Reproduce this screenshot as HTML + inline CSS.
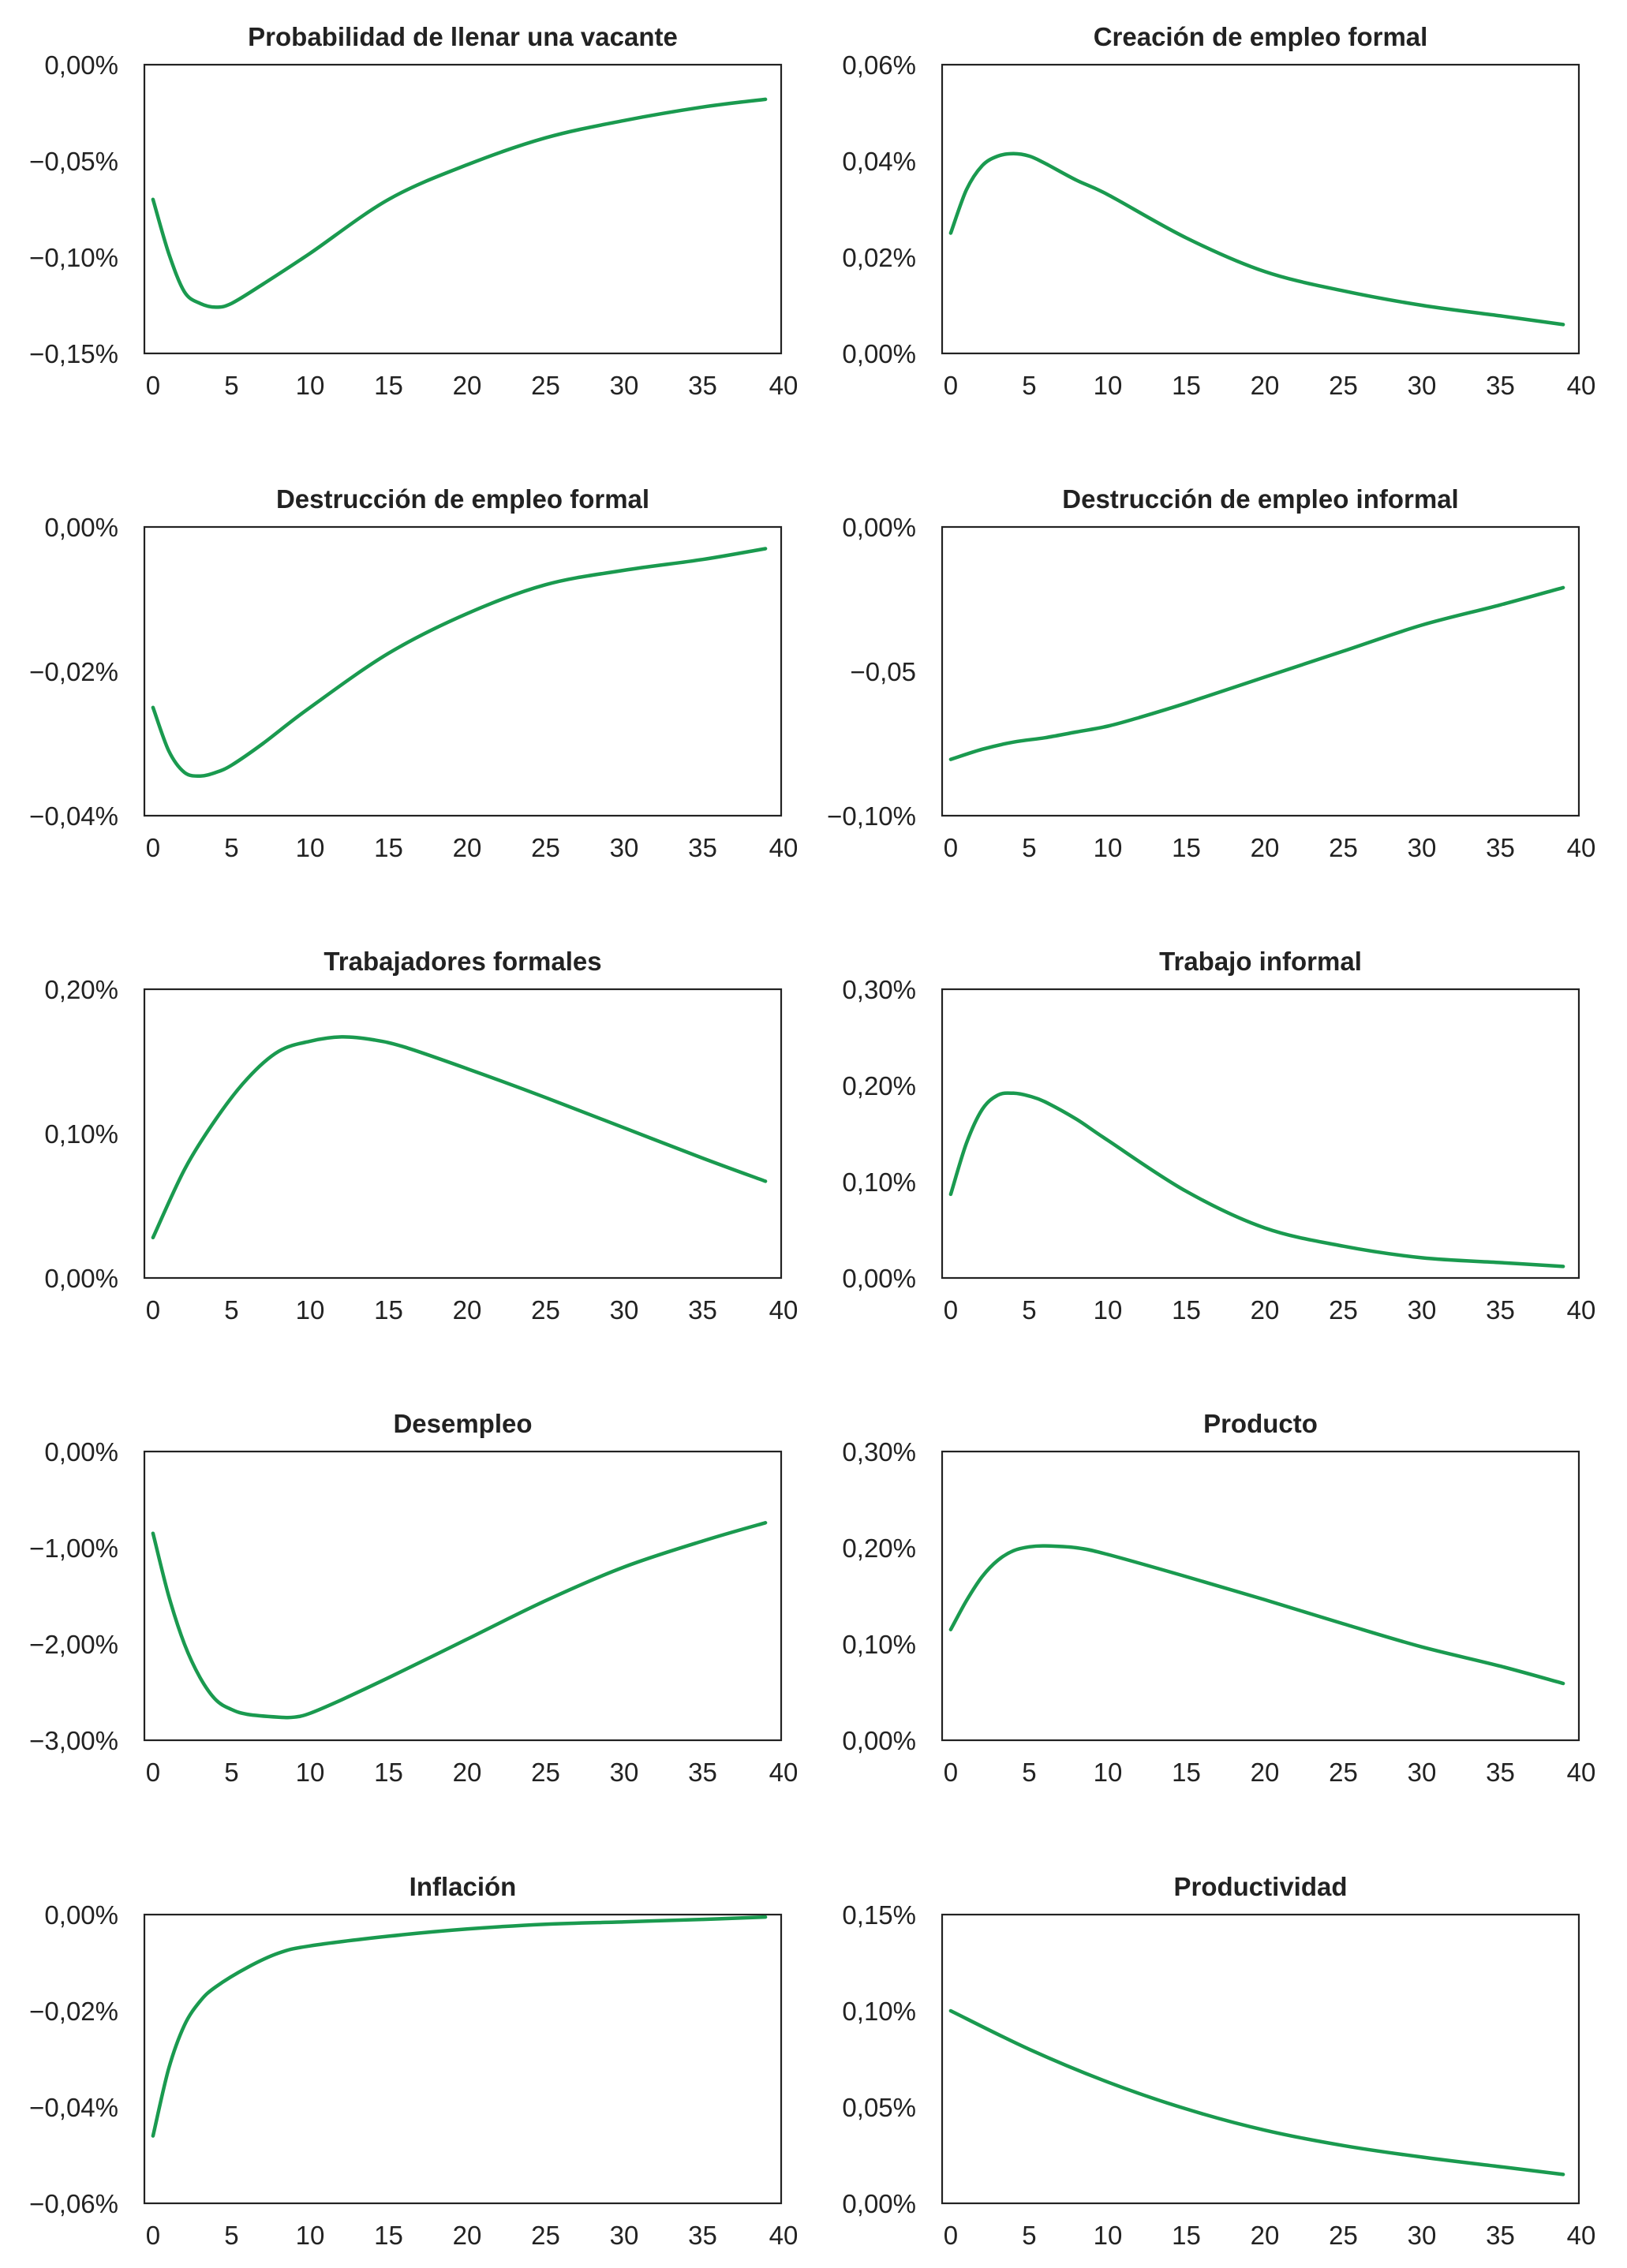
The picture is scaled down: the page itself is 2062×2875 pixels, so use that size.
<!DOCTYPE html>
<html><head><meta charset="utf-8">
<style>
html,body{margin:0;padding:0;background:#fff;}
svg{display:block;}
text{font-family:"Liberation Sans Narrow","Liberation Sans",sans-serif;fill:#222;}
.tick{font-size:33px;}
.title{font-size:33px;font-weight:bold;}
</style></head>
<body>
<svg id="fig" width="2062" height="2875" viewBox="0 0 2062 2875"></svg>
<script>
// ---- data ----
const titles = ["Probabilidad de llenar una vacante","Creación de empleo formal","Destrucción de empleo formal","Destrucción de empleo informal","Trabajadores formales","Trabajo informal","Desempleo","Producto","Inflación","Productividad"];
const xTicks = [0,5,10,15,20,25,30,35,40];
const yMins = [-0.15,0,-0.04,-0.10,0,0,-3,0,-0.06,0];
const yMaxs = [0,0.06,0,0,0.20,0.30,0,0.30,0,0.15];
const yTickVals = [[0,-0.05,-0.10,-0.15],[0.06,0.04,0.02,0],[0,-0.02,-0.04],[0,-0.05,-0.10],[0.20,0.10,0],[0.30,0.20,0.10,0],[0,-1,-2,-3],[0.30,0.20,0.10,0],[0,-0.02,-0.04,-0.06],[0.15,0.10,0.05,0]];
const yTickLabels = [["0,00%","−0,05%","−0,10%","−0,15%"],["0,06%","0,04%","0,02%","0,00%"],["0,00%","−0,02%","−0,04%"],["0,00%","−0,05","−0,10%"],["0,20%","0,10%","0,00%"],["0,30%","0,20%","0,10%","0,00%"],["0,00%","−1,00%","−2,00%","−3,00%"],["0,30%","0,20%","0,10%","0,00%"],["0,00%","−0,02%","−0,04%","−0,06%"],["0,15%","0,10%","0,05%","0,00%"]];
const periods0 = [0,1,2,3,4,5,7,10,15,20,25,30,35,39];
const values0 = [-0.070,-0.098,-0.118,-0.124,-0.126,-0.124,-0.114,-0.098,-0.070,-0.052,-0.038,-0.029,-0.022,-0.018];
const periods1 = [0,1,2,3,4,5,6,8,10,15,20,25,30,35,39];
const values1 = [0.025,0.034,0.039,0.041,0.0415,0.041,0.0395,0.036,0.033,0.024,0.017,0.013,0.010,0.0078,0.006];
const periods2 = [0,1,2,3,4,5,7,10,15,20,25,30,35,39];
const values2 = [-0.025,-0.031,-0.034,-0.0345,-0.034,-0.033,-0.030,-0.025,-0.0175,-0.012,-0.008,-0.006,-0.0045,-0.003];
const periods3 = [0,2,4,6,8,10,12,15,20,25,30,35,39];
const values3 = [-0.0805,-0.077,-0.0745,-0.073,-0.071,-0.069,-0.066,-0.061,-0.052,-0.043,-0.034,-0.027,-0.021];
const periods4 = [0,2,4,6,8,10,12,14,16,20,25,30,35,39];
const values4 = [0.028,0.075,0.11,0.138,0.157,0.164,0.167,0.165,0.160,0.145,0.125,0.104,0.083,0.067];
const periods5 = [0,1,2,3,4,5,6,8,10,15,20,25,30,35,39];
const values5 = [0.087,0.14,0.175,0.19,0.192,0.189,0.183,0.165,0.143,0.09,0.052,0.033,0.021,0.016,0.012];
const periods6 = [0,1,2,3,4,5,6,8,9,10,12,15,20,25,30,35,39];
const values6 = [-0.85,-1.5,-2.0,-2.35,-2.58,-2.68,-2.73,-2.76,-2.76,-2.72,-2.58,-2.35,-1.95,-1.55,-1.2,-0.93,-0.74];
const periods7 = [0,1,2,3,4,5,6,8,10,15,20,25,30,35,39];
const values7 = [0.115,0.145,0.170,0.187,0.197,0.201,0.202,0.200,0.193,0.170,0.146,0.121,0.097,0.077,0.059];
const periods8 = [0,1,2,3,4,6,8,10,15,20,25,30,35,39];
const values8 = [-0.046,-0.032,-0.023,-0.018,-0.015,-0.011,-0.008,-0.0065,-0.0045,-0.003,-0.002,-0.0015,-0.001,-0.0005];
const periods9 = [0,5,10,15,20,25,30,35,39];
const values9 = [0.100,0.080,0.063,0.049,0.038,0.030,0.024,0.019,0.015];

const allPeriods=[periods0,periods1,periods2,periods3,periods4,periods5,periods6,periods7,periods8,periods9];
const allValues=[values0,values1,values2,values3,values4,values5,values6,values7,values8,values9];

// ---- layout ----
const NS="http://www.w3.org/2000/svg";
const svg=document.getElementById('fig');
const boxLefts=[183,1194], boxW=807, boxTops=[82,668,1254,1840,2427], boxH=366;
const xMin=-0.55, xMax=40;
function mk(tag,attrs,parent){const e=document.createElementNS(NS,tag);for(const k in attrs)e.setAttribute(k,attrs[k]);(parent||svg).appendChild(e);return e;}
function smoothPath(pts){
  let d=`M${pts[0][0].toFixed(1)},${pts[0][1].toFixed(1)}`;
  for(let i=0;i<pts.length-1;i++){
    const p0=pts[i-1]||pts[i],p1=pts[i],p2=pts[i+1],p3=pts[i+2]||p2;
    const c1=[p1[0]+(p2[0]-p0[0])/6,p1[1]+(p2[1]-p0[1])/6];
    const c2=[p2[0]-(p3[0]-p1[0])/6,p2[1]-(p3[1]-p1[1])/6];
    d+=` C${c1[0].toFixed(1)},${c1[1].toFixed(1)} ${c2[0].toFixed(1)},${c2[1].toFixed(1)} ${p2[0].toFixed(1)},${p2[1].toFixed(1)}`;
  }
  return d;
}
for(let i=0;i<10;i++){
  const L=boxLefts[i%2], T=boxTops[Math.floor(i/2)];
  const g=mk('g',{});
  
  
  const xs=v=>L+(v-xMin)/(xMax-xMin)*boxW;
  const ys=v=>T+(yMaxs[i]-v)/(yMaxs[i]-yMins[i])*boxH;
  const t=mk('text',{x:L+boxW/2,y:T-24,'text-anchor':'middle',class:'title'},g);
  t.textContent=titles[i];
  
  
  const r=mk('rect',{x:L,y:T,width:boxW,height:boxH,fill:'none',stroke:'#222','stroke-width':2.2},g);
  
  
  yTickVals[i].forEach((v,j)=>{
    const yl=mk('text',{x:L-33,y:ys(v)+12,'text-anchor':'end',class:'tick'},g);
    yl.textContent=yTickLabels[i][j];
    
    
  });
  xTicks.forEach(v=>{
    const xl=mk('text',{x:xs(v)+(v===40?3:0),y:T+boxH+52,'text-anchor':'middle',class:'tick'},g);
    xl.textContent=String(v);
    
    
  });
  const pts=allPeriods[i].map((p,k)=>[xs(p),ys(allValues[i][k])]);
  const path=mk('path',{d:smoothPath(pts),fill:'none',stroke:'#1a9a4f','stroke-width':4.5,'stroke-linejoin':'round','stroke-linecap':'round'},g);
  
  
}
</script>
</body></html>
